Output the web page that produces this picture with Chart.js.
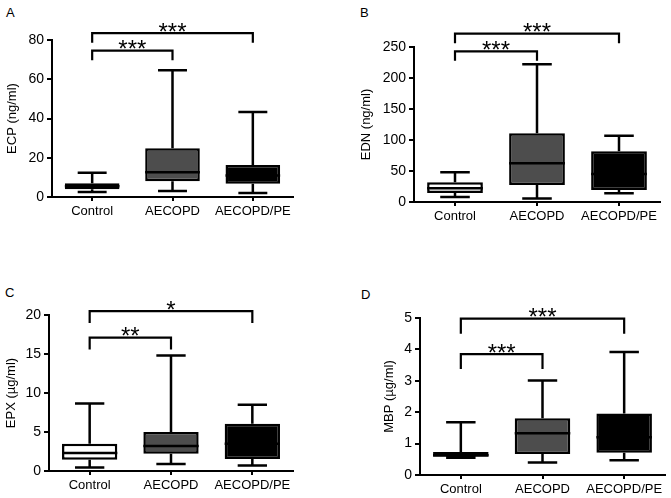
<!DOCTYPE html>
<html>
<head>
<meta charset="utf-8">
<script src="https://cdn.jsdelivr.net/npm/chart.js@4/dist/chart.umd.min.js"></script>
<style>
  html, body { margin:0; padding:0; background:#fff; }
  body { width:671px; height:498px; position:relative; overflow:hidden; font-family:"Liberation Sans", Arial, sans-serif; }
  .panel { position:absolute; width:335px; height:249px; }
  .letter { position:absolute; font-size:13px; color:#000; line-height:1; }
</style>
</head>
<body>
<div class="letter" style="left:6px;top:6px;">A</div>
<div class="letter" style="left:360px;top:6px;">B</div>
<div class="letter" style="left:5px;top:286px;">C</div>
<div class="letter" style="left:361px;top:288px;">D</div>
<div class="panel" style="left:0;top:0;"><canvas id="cA"></canvas></div>
<div class="panel" style="left:335px;top:0;"><canvas id="cB"></canvas></div>
<div class="panel" style="left:0;top:249px;"><canvas id="cC"></canvas></div>
<div class="panel" style="left:335px;top:249px;"><canvas id="cD"></canvas></div>
<script>
const categories = ['Control', 'AECOPD', 'AECOPD/PE'];

// Panel A: ECP (ng/ml)
const ecpMin = [2.5, 3.0, 2.0];
const ecpQ1  = [4.0, 8.0, 6.8];
const ecpMed = [5.5, 12.6, 11.0];
const ecpQ3  = [7.0, 24.8, 16.3];
const ecpMax = [12.4, 64.6, 43.3];
const ecpTicks = [0, 20, 40, 60, 80];
const ecpSigFrom = [0, 0], ecpSigTo = [1, 2], ecpSigText = ['***', '***'];
const ecpSigLevel = [74.6, 83.5];

// Panel B: EDN (ng/ml)
const ednMin = [8, 5.5, 14];
const ednQ1  = [14.5, 27.5, 19.3];
const ednMed = [22, 62.5, 45];
const ednQ3  = [32, 111, 82];
const ednMax = [48, 222, 107];
const ednTicks = [0, 50, 100, 150, 200, 250];
const ednSigFrom = [0, 0], ednSigTo = [1, 2], ednSigText = ['***', '***'];
const ednSigLevel = [243, 271.5];

// Panel C: EPX (µg/ml)
const epxMin = [0.45, 0.9, 0.7];
const epxQ1  = [1.45, 2.2, 1.55];
const epxMed = [2.3, 3.2, 3.5];
const epxQ3  = [3.5, 5.0, 6.05];
const epxMax = [8.65, 14.8, 8.5];
const epxTicks = [0, 5, 10, 15, 20];
const epxSigFrom = [0, 0], epxSigTo = [1, 2], epxSigText = ['**', '*'];
const epxSigLevel = [17.1, 20.5];

// Panel D: MBP (µg/ml)
const mbpMin = [0.55, 0.4, 0.47];
const mbpQ1  = [0.58, 0.67, 0.71];
const mbpMed = [0.63, 1.33, 1.2];
const mbpQ3  = [0.73, 1.81, 1.96];
const mbpMax = [1.68, 3.01, 3.92];
const mbpTicks = [0, 1, 2, 3, 4, 5];
const mbpSigFrom = [0, 0], mbpSigTo = [1, 2], mbpSigText = ['***', '***'];
const mbpSigLevel = [3.85, 4.98];

const fillColors = ['#ffffff', '#4d4d4d', '#000000'];
const FONT = '"Liberation Sans", Arial, sans-serif';

const boxPlugin = {
  id: 'boxExtras',
  afterDatasetsDraw(chart) {
    const st = chart.options.plugins.boxExtras;
    const ctx = chart.ctx;
    const xs = chart.scales.x, ys = chart.scales.y;
    const meta = chart.getDatasetMeta(0);
    ctx.save();
    ctx.strokeStyle = '#000';
    ctx.lineWidth = 2.5;
    ctx.lineCap = 'butt';
    st.min.forEach((mn, i) => {
      const bar = meta.data[i];
      const cx = xs.getPixelForValue(i);
      const bw = bar.width;
      const cap = bw * 0.53;
      const yMin = ys.getPixelForValue(mn), yMax = ys.getPixelForValue(st.max[i]);
      const yQ1 = ys.getPixelForValue(st.q1[i]), yQ3 = ys.getPixelForValue(st.q3[i]);
      const yMed = ys.getPixelForValue(st.med[i]);
      ctx.beginPath();
      ctx.moveTo(cx, yQ3); ctx.lineTo(cx, yMax);
      ctx.moveTo(cx - cap/2, yMax); ctx.lineTo(cx + cap/2, yMax);
      ctx.moveTo(cx, yQ1); ctx.lineTo(cx, yMin);
      ctx.moveTo(cx - cap/2, yMin); ctx.lineTo(cx + cap/2, yMin);
      ctx.moveTo(cx - bw/2, yMed); ctx.lineTo(cx + bw/2, yMed);
      ctx.stroke();
    });
    // significance brackets
    ctx.lineWidth = 2.2;
    st.sigFrom.forEach((f, k) => {
      const x1 = xs.getPixelForValue(f), x2 = xs.getPixelForValue(st.sigTo[k]);
      const y = ys.getPixelForValue(st.sigLevel[k]);
      const drop = st.drop;
      ctx.beginPath();
      ctx.moveTo(x1, y + drop); ctx.lineTo(x1, y); ctx.lineTo(x2, y); ctx.lineTo(x2, y + drop);
      ctx.stroke();
      ctx.fillStyle = '#000';
      ctx.font = '24px ' + FONT;
      ctx.textAlign = 'center';
      ctx.textBaseline = 'alphabetic';
      const m = ctx.measureText(st.sigText[k]);
      const base = (y - 1.5) - m.actualBoundingBoxDescent;
      ctx.fillText(st.sigText[k], (x1 + x2) / 2, base);
    });
    ctx.restore();
  }
};

function makePanel(id, title, ticks, mins, q1s, meds, q3s, maxs, sigFrom, sigTo, sigText, sigLevel, area, drop) {
  const W = 335, H = 249;
  const floating = q1s.map((q, i) => [q, q3s[i]]);
  new Chart(document.getElementById(id), {
    type: 'bar',
    data: {
      labels: categories,
      datasets: [{
        data: floating,
        backgroundColor: fillColors,
        borderColor: '#000',
        borderWidth: 2.5,
        borderSkipped: false,
        barPercentage: 0.68,
        categoryPercentage: 1.0
      }]
    },
    plugins: [boxPlugin],
    options: {
      responsive: false,
      animation: false,
      devicePixelRatio: 1,
      layout: { padding: { left: area.pl, top: area.t, right: W - area.r, bottom: 0 } },
      plugins: {
        legend: { display: false },
        tooltip: { enabled: false },
        boxExtras: { min: mins, q1: q1s, med: meds, q3: q3s, max: maxs,
          sigFrom, sigTo, sigText, sigLevel, drop }
      },
      scales: {
        x: {
          type: 'category',
          offset: true,
          grid: { display: true, offset: false, drawOnChartArea: false, drawTicks: true, tickLength: 4, color: '#000', lineWidth: 2 },
          border: { display: true, color: '#000', width: 2 },
          ticks: { color: '#000', font: { family: FONT, size: 13 }, padding: 3, maxRotation: 0, autoSkip: false },
          afterFit: (s) => { s.height = H - area.b; }
        },
        y: {
          min: ticks[0], max: ticks[ticks.length - 1],
          afterBuildTicks: (s) => { s.ticks = ticks.map(v => ({ value: v })); },
          grid: { display: true, drawOnChartArea: false, drawTicks: true, tickLength: 5, color: '#000', lineWidth: 2 },
          border: { display: true, color: '#000', width: 2 },
          ticks: { color: '#000', font: { family: FONT, size: 14 }, padding: 3 },
          title: { display: true, text: title, color: '#000', font: { family: FONT, size: 13 }, padding: { top: 0, bottom: 2 } },
          afterFit: (s) => { s.width = area.l - area.pl; }
        }
      }
    }
  });
}

function sizeCanvas(id) {
  const c = document.getElementById(id);
  c.width = 335; c.height = 249;
  c.style.width = '335px'; c.style.height = '249px';
}
['cA','cB','cC','cD'].forEach(sizeCanvas);

makePanel('cA', 'ECP (ng/ml)', ecpTicks, ecpMin, ecpQ1, ecpMed, ecpQ3, ecpMax,
  ecpSigFrom, ecpSigTo, ecpSigText, ecpSigLevel, { pl: 5, l: 52, t: 40, r: 293, b: 197 }, 9.7);
makePanel('cB', 'EDN (ng/ml)', ednTicks, ednMin, ednQ1, ednMed, ednQ3, ednMax,
  ednSigFrom, ednSigTo, ednSigText, ednSigLevel, { pl: 24, l: 79, t: 47, r: 325, b: 202 }, 9.5);
makePanel('cC', 'EPX (\u00b5g/ml)', epxTicks, epxMin, epxQ1, epxMed, epxQ3, epxMax,
  epxSigFrom, epxSigTo, epxSigText, epxSigLevel, { pl: 4, l: 49, t: 66, r: 293, b: 222 }, 11.8);
makePanel('cD', 'MBP (\u00b5g/ml)', mbpTicks, mbpMin, mbpQ1, mbpMed, mbpQ3, mbpMax,
  mbpSigFrom, mbpSigTo, mbpSigText, mbpSigLevel, { pl: 47, l: 85, t: 69, r: 330, b: 226 }, 15);
</script>
</body>
</html>
